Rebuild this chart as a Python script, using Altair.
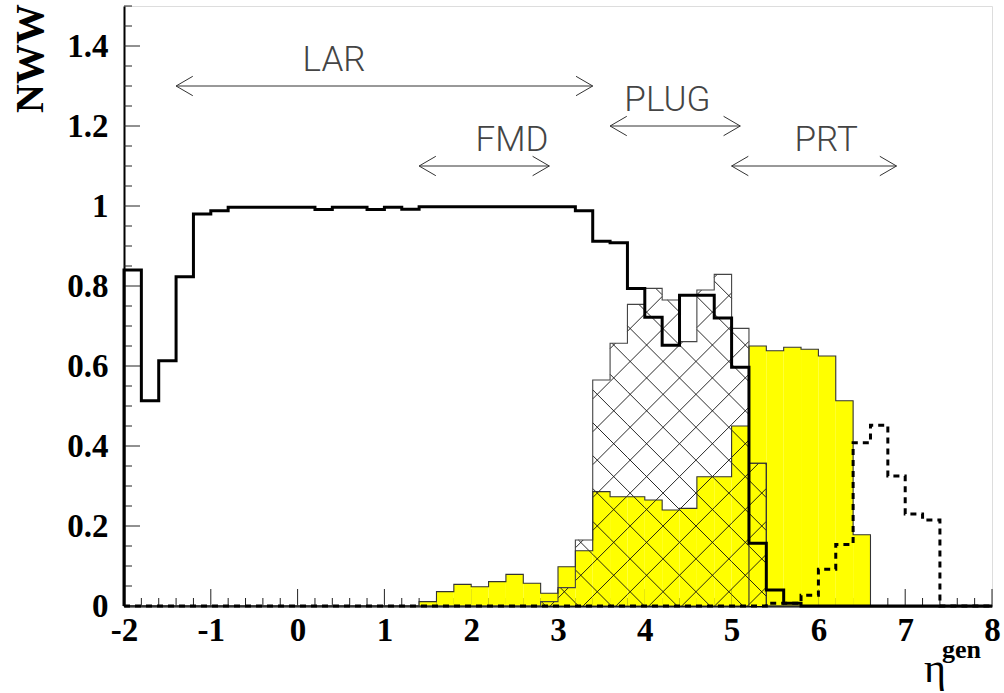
import math

import altair as alt
import pandas as pd

# Bin edges in eta_gen (0.2 wide bins from -2 to 8)
eta_edges = [-2.0, -1.8, -1.6, -1.4, -1.2, -1.0, -0.8, -0.6, -0.4, -0.2,
             0.0, 0.2, 0.4, 0.6, 0.8, 1.0, 1.2, 1.4, 1.6, 1.8,
             2.0, 2.2, 2.4, 2.6, 2.8, 3.0, 3.2, 3.4, 3.6, 3.8,
             4.0, 4.2, 4.4, 4.6, 4.8, 5.0, 5.2, 5.4, 5.6, 5.8,
             6.0, 6.2, 6.4, 6.6, 6.8, 7.0, 7.2, 7.4, 7.6, 7.8, 8.0]

# LAR response (thick solid histogram)
lar = [0.840, 0.513, 0.613, 0.823, 0.980, 0.988, 0.997, 0.997, 0.997, 0.997,
       0.997, 0.991, 0.997, 0.997, 0.991, 0.997, 0.992, 0.998, 0.998, 0.998,
       0.998, 0.998, 0.998, 0.998, 0.998, 0.998, 0.988, 0.912, 0.908, 0.794,
       0.722, 0.652, 0.777, 0.777, 0.720, 0.597, 0.157, 0.040, 0.007, 0.0,
       0.0, 0.0, 0.0, 0.0, 0.0, 0.0, 0.0, 0.0, 0.0, 0.0]

# FMD / PLUG yellow histogram
fmd_plug = [0.0, 0.0, 0.0, 0.0, 0.0, 0.0, 0.0, 0.0, 0.0, 0.0,
            0.0, 0.0, 0.0, 0.0, 0.0, 0.0, 0.0, 0.011, 0.036, 0.054,
            0.048, 0.061, 0.079, 0.057, 0.032, 0.098, 0.138, 0.286, 0.273, 0.273,
            0.265, 0.240, 0.244, 0.323, 0.323, 0.450, 0.357, 0.0, 0.0, 0.0,
            0.0, 0.0, 0.0, 0.0, 0.0, 0.0, 0.0, 0.0, 0.0, 0.0]

# PLUG cross-hatched histogram
plug = [0.0, 0.0, 0.0, 0.0, 0.0, 0.0, 0.0, 0.0, 0.0, 0.0,
        0.0, 0.0, 0.0, 0.0, 0.0, 0.0, 0.0, 0.0, 0.0, 0.0,
        0.0, 0.0, 0.0, 0.0, 0.011, 0.046, 0.165, 0.565, 0.657, 0.754,
        0.794, 0.765, 0.661, 0.790, 0.829, 0.694, 0.357, 0.0, 0.0, 0.0,
        0.0, 0.0, 0.0, 0.0, 0.0, 0.0, 0.0, 0.0, 0.0, 0.0]

# PRT yellow histogram
prt = [0.0, 0.0, 0.0, 0.0, 0.0, 0.0, 0.0, 0.0, 0.0, 0.0,
       0.0, 0.0, 0.0, 0.0, 0.0, 0.0, 0.0, 0.0, 0.0, 0.0,
       0.0, 0.0, 0.0, 0.0, 0.0, 0.0, 0.0, 0.0, 0.0, 0.0,
       0.0, 0.0, 0.0, 0.0, 0.0, 0.0, 0.650, 0.638, 0.647, 0.642,
       0.625, 0.513, 0.178, 0.0, 0.0, 0.0, 0.0, 0.0, 0.0, 0.0]

# Very forward response (thick dashed histogram)
forward = [0.0, 0.0, 0.0, 0.0, 0.0, 0.0, 0.0, 0.0, 0.0, 0.0,
           0.0, 0.0, 0.0, 0.0, 0.0, 0.0, 0.0, 0.0, 0.0, 0.0,
           0.0, 0.0, 0.0, 0.0, 0.0, 0.0, 0.0, 0.0, 0.0, 0.0,
           0.0, 0.0, 0.0, 0.0, 0.0, 0.0, 0.0, 0.007, 0.007, 0.027,
           0.092, 0.154, 0.408, 0.452, 0.325, 0.230, 0.215, 0.0, 0.0, 0.0]

# Detector acceptance arrows
det_names = ["LAR", "FMD", "PLUG", "PRT"]
det_lo = [-1.4, 1.4, 3.6, 5.0]
det_hi = [3.4, 2.9, 5.1, 6.9]
det_arrow_y = [1.30, 1.10, 1.20, 1.10]
det_text_x = [0.42, 2.47, 4.26, 6.09]
det_text_y = [1.338, 1.1375, 1.238, 1.1375]

# Axis tick positions
x_major = [-2, -1, 0, 1, 2, 3, 4, 5, 6, 7, 8]
y_major = [0.0, 0.2, 0.4, 0.6, 0.8, 1.0, 1.2, 1.4]

W, H = 868, 600
X_MIN, X_MAX, Y_MAX = -2.0, 8.0, 1.5
x_minor = [round(X_MIN + 0.2 * i, 1) for i in range(51)]
y_minor = [round(0.05 * i, 2) for i in range(31)]

xs = alt.Scale(domain=[X_MIN, X_MAX], nice=False, zero=False)
ys = alt.Scale(domain=[0, Y_MAX], nice=False, zero=False)

serif = "Liberation Serif"
x_axis = alt.Axis(values=x_major, labelExpr="datum.value + ''", ticks=False,
                  grid=False, title=None, labelFont=serif, labelFontWeight="bold",
                  labelFontSize=33, labelPadding=8, labelColor="black",
                  domainColor="black", domainWidth=2, labelFlush=False)
y_axis = alt.Axis(values=y_major, labelExpr="datum.value + ''", ticks=False,
                  grid=False, title="NWW", titleFont=serif, titleFontWeight="bold",
                  titleFontSize=40, titleAngle=270, titleX=-94, titleY=52,
                  titleAlign="center", titleBaseline="middle", titleColor="black",
                  labelFont=serif, labelFontWeight="bold", labelFontSize=33,
                  labelPadding=16, labelColor="black", domainColor="black",
                  domainWidth=2, labelFlush=False)


def X(field):
    return alt.X(field, type="quantitative", scale=xs, axis=x_axis)


def Y(field):
    return alt.Y(field, type="quantitative", scale=ys, axis=y_axis)


def step_frame(values):
    """Vertices of a histogram outline, drawn with step-after interpolation."""
    rows = [{"x": eta_edges[0], "y": 0.0, "o": 0}]
    for i, v in enumerate(values):
        rows.append({"x": eta_edges[i], "y": v, "o": i + 1})
    rows.append({"x": eta_edges[-1], "y": values[-1], "o": len(values) + 1})
    rows.append({"x": eta_edges[-1], "y": 0.0, "o": len(values) + 2})
    return pd.DataFrame(rows)


def hist_fill(values, color):
    return alt.Chart(step_frame(values)).mark_area(
        interpolate="step-after", color=color, opacity=1, strokeWidth=0
    ).encode(x=X("x"), y=Y("y"), order="o:Q")


def hist_line(values, color, width, dash=None):
    kw = dict(interpolate="step-after", color=color, strokeWidth=width,
              strokeJoin="miter", strokeCap="butt")
    if dash:
        kw["strokeDash"] = dash
    return alt.Chart(step_frame(values)).mark_line(**kw).encode(
        x=X("x"), y=Y("y"), order="o:Q")


# Cross-hatch pattern for the PLUG histogram: 45 degree lines clipped to each bin
px_x = W / (X_MAX - X_MIN)
px_y = H / Y_MAX
HATCH_STEP = 32.9
c_a0 = 261.0 - 555.5
c_b0 = 261.0 + 555.5
segs = []
for i, h in enumerate(plug):
    if h <= 0:
        continue
    ua = (eta_edges[i] - X_MIN) * px_x
    ub = (eta_edges[i + 1] - X_MIN) * px_x
    vh = h * px_y
    k0 = math.ceil((-ub - c_a0) / HATCH_STEP)
    k1 = math.floor((vh - ua - c_a0) / HATCH_STEP)
    for k in range(k0, k1 + 1):
        c = c_a0 + k * HATCH_STEP
        u_lo, u_hi = max(ua, -c), min(ub, vh - c)
        if u_hi - u_lo > 1e-6:
            segs.append((u_lo, u_lo + c, u_hi, u_hi + c))
    k0 = math.ceil((ua - c_b0) / HATCH_STEP)
    k1 = math.floor((ub + vh - c_b0) / HATCH_STEP)
    for k in range(k0, k1 + 1):
        c = c_b0 + k * HATCH_STEP
        u_lo, u_hi = max(ua, c - vh), min(ub, c)
        if u_hi - u_lo > 1e-6:
            segs.append((u_lo, c - u_lo, u_hi, c - u_hi))
hatch_df = pd.DataFrame(
    [{"x": a / px_x + X_MIN, "y": b / px_y, "x2": c / px_x + X_MIN, "y2": d / px_y}
     for a, b, c, d in segs])
hatch = alt.Chart(hatch_df).mark_rule(color="#111", strokeWidth=0.9).encode(
    x=X("x"), y=Y("y"), x2="x2", y2="y2")

# Inward axis ticks
xt = pd.DataFrame({"x": x_minor, "major": [abs(v - round(v)) < 1e-9 for v in x_minor]})
x_ticks_minor = alt.Chart(xt[~xt.major]).mark_rule(color="#222", strokeWidth=1).encode(
    x=X("x"), y=alt.value(H), y2=alt.value(H - 8))
x_ticks_major = alt.Chart(xt[xt.major]).mark_rule(color="#222", strokeWidth=1).encode(
    x=X("x"), y=alt.value(H), y2=alt.value(H - 17))
yt = pd.DataFrame({"y": y_minor, "major": [abs(v * 5 - round(v * 5)) < 1e-9 for v in y_minor]})
y_ticks_minor = alt.Chart(yt[~yt.major]).mark_rule(color="#222", strokeWidth=1).encode(
    y=Y("y"), x=alt.value(0), x2=alt.value(8))
y_ticks_major = alt.Chart(yt[yt.major]).mark_rule(color="#222", strokeWidth=1).encode(
    y=Y("y"), x=alt.value(0), x2=alt.value(16))

# Detector ranges: double arrows with labels
det = pd.DataFrame({"name": det_names, "lo": det_lo, "hi": det_hi, "ya": det_arrow_y,
                    "tx": det_text_x, "ty": det_text_y})
arrow_col = "#333"
shaft = alt.Chart(det).mark_rule(color=arrow_col, strokeWidth=1).encode(
    x=X("lo"), x2="hi", y=Y("ya"))
barbs = []
for end, dx in (("lo", 16.7), ("hi", -16.7)):
    for dy in (-9.7, 9.7):
        barbs.append(alt.Chart(det).mark_rule(
            color=arrow_col, strokeWidth=1, x2Offset=dx, y2Offset=dy
        ).encode(x=X(end), x2=end, y=Y("ya"), y2="ya"))
labels = alt.Chart(det).mark_text(
    font="Roboto", fontWeight=300, fontSize=35, color="#444",
    align="center", baseline="alphabetic"
).encode(x=X("tx"), y=Y("ty"), text="name:N")

# x-axis title eta^gen
one = pd.DataFrame({"k": [0]})
eta_title = alt.Chart(one).mark_text(
    text="η", font=serif, fontSize=42, align="left", baseline="alphabetic", color="black"
).encode(x=alt.value(800), y=alt.value(676))
gen_title = alt.Chart(one).mark_text(
    text="gen", font=serif, fontWeight="bold", fontSize=26, align="left",
    baseline="alphabetic", color="black"
).encode(x=alt.value(818), y=alt.value(652))

chart = alt.layer(
    x_ticks_minor, x_ticks_major, y_ticks_minor, y_ticks_major,
    hist_fill(fmd_plug, "#ffff00"),
    hist_fill(prt, "#ffff00"),
    hatch,
    hist_line(plug, "#444", 1.1),
    hist_line(fmd_plug, "#333", 1.1),
    hist_line(prt, "#333", 1.1),
    hist_line(forward, "black", 3, dash=[6, 5]),
    hist_line(lar, "black", 3),
    shaft, *barbs, labels,
    eta_title, gen_title,
).properties(
    width=W, height=H,
    autosize=alt.AutoSizeParams(type="none"),
    padding={"left": 124, "top": 6, "right": 12, "bottom": 87},
).configure_view(
    stroke="#222", strokeWidth=1.5
).configure(background="white")

chart.save("out.html", embed_options={"renderer": "svg", "actions": False})
